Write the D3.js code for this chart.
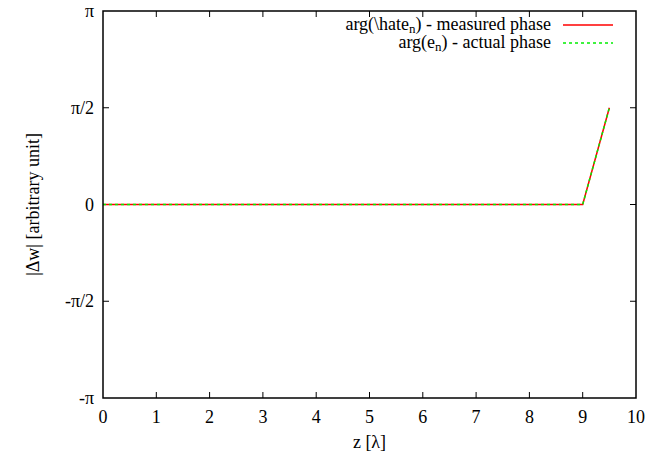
<!DOCTYPE html>
<html>
<head>
<meta charset="utf-8">
<script src="https://cdn.jsdelivr.net/npm/d3@7"></script>
<style>
  body { margin: 0; background: #fff; }
</style>
</head>
<body>
<svg id="chart" width="667" height="464" font-family="Liberation Serif, serif"></svg>
<script>
    // series data (z in wavelengths, phase in radians)
    const zValues = [0, 9, 9.5];
    const measuredPhase = [0, 0, Math.PI / 2];
    const actualPhase = [0, 0, Math.PI / 2];

    const xTicks = [0, 1, 2, 3, 4, 5, 6, 7, 8, 9, 10];
    const yTicks = [-Math.PI, -Math.PI / 2, 0, Math.PI / 2, Math.PI];
    const yTickLabels = ["-π", "-π/2", "0", "π/2", "π"];

    const W = 667, H = 464;
    const margin = { top: 11, right: 31, bottom: 66, left: 103 };
    const width = W - margin.left - margin.right;
    const height = H - margin.top - margin.bottom;
    const FONT = "Liberation Serif, serif";

    const svg = d3.select("#chart")
        .append("g")
            .attr("transform", `translate(${margin.left},${margin.top})`);

    const x = d3.scaleLinear().domain([0, 10]).range([0, width]);
    const y = d3.scaleLinear().domain([-Math.PI, Math.PI]).range([height, 0]);

    const tickLen = 6;

    // text helper so every label gets the serif face
    function label(parent, tx, ty, anchor) {
        return parent.append("text")
            .attr("x", tx).attr("y", ty)
            .attr("text-anchor", anchor)
            .attr("font-family", FONT)
            .attr("font-size", 18)
            .attr("fill", "#000");
    }

    // ticks, mirrored on all four sides (gnuplot style)
    svg.selectAll(".xtickB").data(xTicks.slice(1, -1)).enter().append("line")
        .attr("x1", d => x(d)).attr("x2", d => x(d))
        .attr("y1", height).attr("y2", height - tickLen)
        .attr("stroke", "#000");
    svg.selectAll(".xtickT").data(xTicks.slice(1, -1)).enter().append("line")
        .attr("x1", d => x(d)).attr("x2", d => x(d))
        .attr("y1", 0).attr("y2", tickLen)
        .attr("stroke", "#000");
    svg.selectAll(".ytickL").data(yTicks.slice(1, -1)).enter().append("line")
        .attr("x1", 0).attr("x2", tickLen)
        .attr("y1", d => y(d)).attr("y2", d => y(d))
        .attr("stroke", "#000");
    svg.selectAll(".ytickR").data(yTicks.slice(1, -1)).enter().append("line")
        .attr("x1", width).attr("x2", width - tickLen)
        .attr("y1", d => y(d)).attr("y2", d => y(d))
        .attr("stroke", "#000");

    // tick labels
    xTicks.forEach(d => label(svg, x(d), height + 25, "middle").text(d));
    yTicks.forEach((d, i) => label(svg, -9, y(d) + 6, "end").text(yTickLabels[i]));

    // axis titles
    label(svg, width / 2, height + 50, "middle").text("z [λ]");
    label(svg, 0, 0, "middle")
        .attr("transform", `translate(${-64},${height / 2}) rotate(-90)`)
        .text("|Δw| [arbitrary unit]");

    // lines
    const pts = (ys) => zValues.map((z, i) => ({ z: z, v: ys[i] }));
    const line = d3.line().x(d => x(d.z)).y(d => y(d.v));

    svg.append("path")
        .datum(pts(measuredPhase))
        .attr("fill", "none")
        .attr("stroke", "#ff0000")
        .attr("stroke-width", 1.5)
        .attr("d", line);
    svg.append("path")
        .datum(pts(actualPhase))
        .attr("fill", "none")
        .attr("stroke", "#00ee00")
        .attr("stroke-width", 1.5)
        .attr("stroke-dasharray", "3,3")
        .attr("d", line);

    // legend
    const legend = [
        { pre: "arg(\\hate", sub: "n", post: ") - measured phase", color: "#ff0000", dash: null },
        { pre: "arg(e", sub: "n", post: ") - actual phase", color: "#00ee00", dash: "3,3" }
    ];
    legend.forEach((d, i) => {
        const yy = 14 + i * 18;
        const t = label(svg, 448, yy + 5, "end");
        t.append("tspan").text(d.pre);
        t.append("tspan").attr("dy", 3).attr("font-size", 13).text(d.sub);
        t.append("tspan").attr("dy", -3).text(d.post);
        svg.append("line")
            .attr("x1", 460).attr("x2", 510)
            .attr("y1", yy).attr("y2", yy)
            .attr("stroke", d.color)
            .attr("stroke-width", 1.5)
            .attr("stroke-dasharray", d.dash);
    });

    // frame
    svg.append("rect")
        .attr("width", width)
        .attr("height", height)
        .attr("fill", "none")
        .attr("stroke", "#000")
        .attr("stroke-width", 1.5);
</script>
</body>
</html>
